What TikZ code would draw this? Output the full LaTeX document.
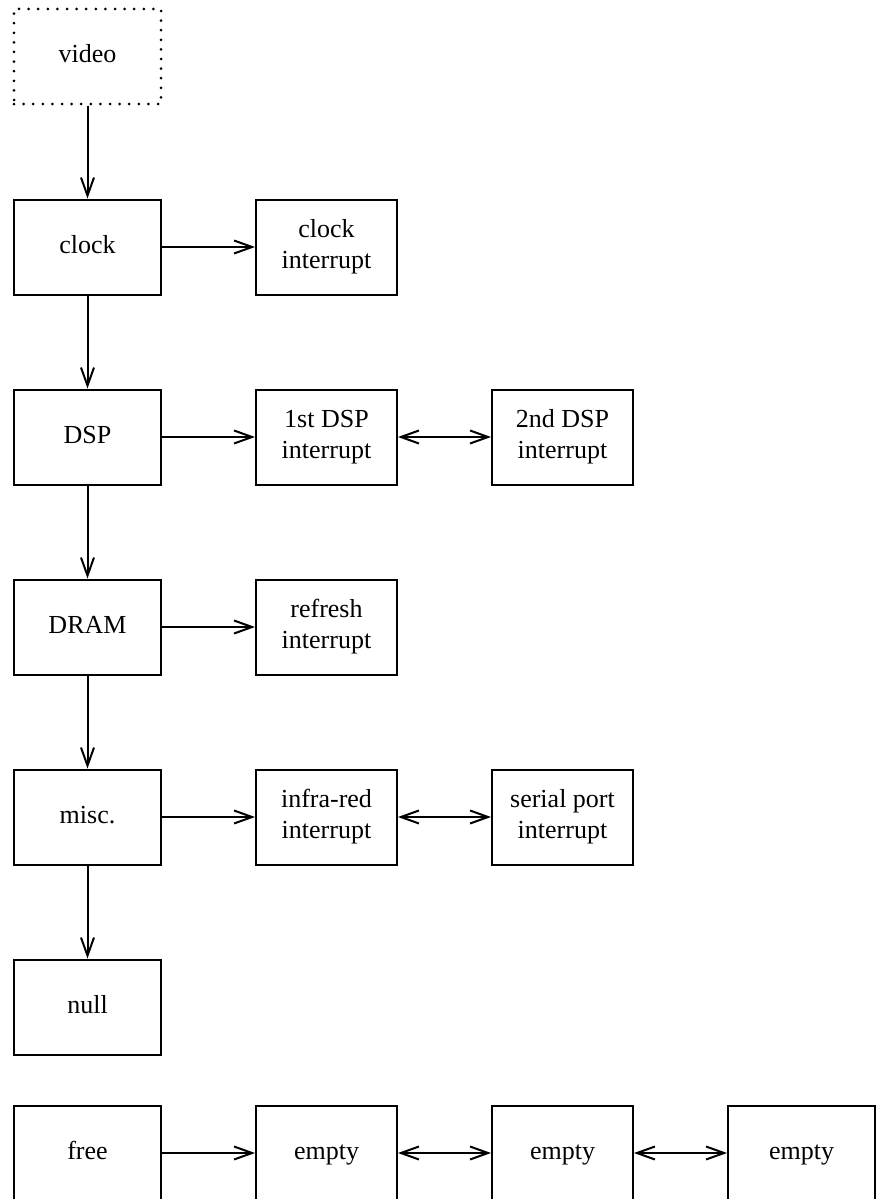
\documentclass[tikz,border=0pt]{standalone}
\usepackage{fontspec}
\setmainfont{Liberation Serif}
\usetikzlibrary{positioning, arrows.meta}

\begin{document}
\begin{tikzpicture}[x=1pt, y=1pt,
  node distance=93pt and 93pt,
  every node/.style={inner sep=2pt, font=\fontsize{26}{31}\selectfont},
  box/.style={draw, line width=2pt, minimum width=147pt,
              minimum height=95pt, align=center},
  blk/.style={box, text height=18pt, text depth=6pt},
  irq/.style={box, minimum width=141pt},
  cell/.style={blk, minimum width=141pt},
  dotbox/.style={blk, line width=3pt, line cap=round,
                 dash pattern=on 0pt off 9.6pt},
  arrow/.style={-{Straight Barb[length=18pt, width=13pt]}, line width=2pt},
  twoway/.style={{Straight Barb[length=18pt, width=13pt]}-{Straight Barb[length=18pt, width=13pt]},
                 line width=2pt}]
\useasboundingbox (0,0) rectangle (876,-1199);

% interrupt chain
\node[dotbox] (video) at (87.5,-56.5) {video};
\node[blk, below=of video] (clock) {clock};
\node[irq, right=of clock] (clockirq) {clock\\interrupt};
\node[blk, below=of clock] (dsp) {DSP};
\node[irq, right=of dsp] (dspa) {1st DSP\\interrupt};
\node[irq, right=of dspa] (dspb) {2nd DSP\\interrupt};
\node[blk, below=of dsp] (dram) {DRAM};
\node[irq, right=of dram] (refresh) {refresh\\interrupt};
\node[blk, below=of dram] (misc) {misc.};
\node[irq, right=of misc] (infra) {infra-red\\interrupt};
\node[irq, right=of infra] (serial) {serial port\\interrupt};
\node[blk, below=of misc] (null) {null};

% free list
\node[blk, below=49pt of null] (free) {free};
\node[cell, right=of free] (emptya) {empty};
\node[cell, right=of emptya] (emptyb) {empty};
\node[blk, right=of emptyb] (emptyc) {empty};

\draw[arrow] (video) -- (clock);
\draw[arrow] (clock) -- (dsp);
\draw[arrow] (dsp) -- (dram);
\draw[arrow] (dram) -- (misc);
\draw[arrow] (misc) -- (null);
\draw[arrow] (clock) -- (clockirq);
\draw[arrow] (dsp) -- (dspa);
\draw[twoway] (dspa) -- (dspb);
\draw[arrow] (dram) -- (refresh);
\draw[arrow] (misc) -- (infra);
\draw[twoway] (infra) -- (serial);
\draw[arrow] (free) -- (emptya);
\draw[twoway] (emptya) -- (emptyb);
\draw[twoway] (emptyb) -- (emptyc);
\end{tikzpicture}
\end{document}
